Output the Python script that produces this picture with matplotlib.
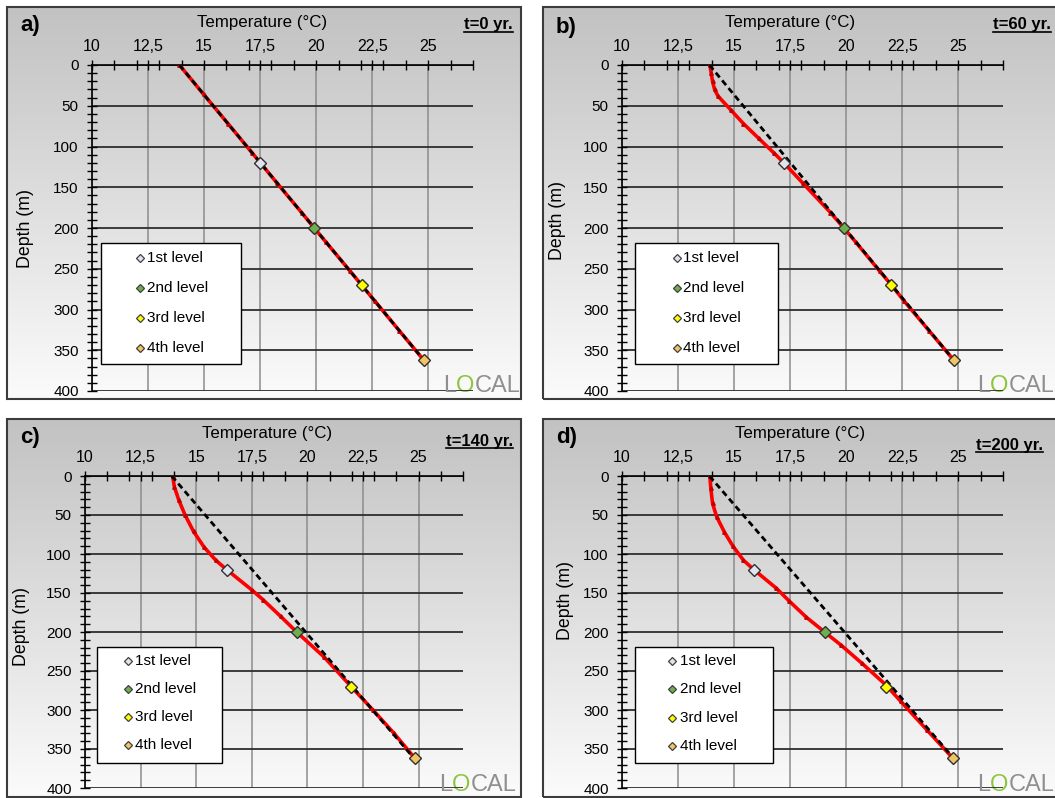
import numpy as np
import matplotlib
matplotlib.use("Agg")
import matplotlib.pyplot as plt
from matplotlib.patches import Rectangle
from matplotlib.lines import Line2D
from matplotlib.colors import LinearSegmentedColormap

plt.rcParams['font.family'] = ['Liberation Sans', 'DejaVu Sans']
NARROW = ['Liberation Sans Narrow', 'Liberation Sans', 'DejaVu Sans']

# ---------------------------------------------------------------- data
TEMP_TICKS = [10, 12.5, 15, 17.5, 20, 22.5, 25]
TEMP_LABELS = ["10", "12,5", "15", "17,5", "20", "22,5", "25"]
DEPTH_TICKS = [0, 50, 100, 150, 200, 250, 300, 350, 400]

LEVEL_NAMES = ["1st level", "2nd level", "3rd level", "4th level"]
LEVEL_DEPTHS = [120, 200, 270, 362]

PANEL_LETTERS = ["a)", "b)", "c)", "d)"]
PANEL_TIMES = ["t=0 yr.", "t=60 yr.", "t=140 yr.", "t=200 yr."]

# undisturbed (initial) geothermal profile
initial_depth = [0, 362]
initial_temp = [13.9, 24.8]

# simulated profiles
depth_a = [0, 36, 72, 108, 120, 145, 181, 200, 217, 253, 270, 290, 326, 362]
temp_a = [13.9, 14.98, 16.07, 17.15, 17.51, 18.26, 19.35, 19.92, 20.43,
          21.52, 22.03, 22.63, 23.71, 24.8]

depth_b = [0, 10, 20, 30, 38, 55, 72, 90, 108, 120, 145, 181, 200, 217,
           253, 270, 290, 326, 362]
temp_b = [13.92, 13.98, 14.04, 14.13, 14.28, 14.85, 15.42, 16.1, 16.78,
          17.22, 18.07, 19.3, 19.9, 20.42, 21.5, 22.02, 22.6, 23.7, 24.8]

depth_c = [0, 14, 31, 50, 71, 91, 108, 120, 146, 159, 180, 200, 232, 270,
           300, 330, 362]
temp_c = [13.94, 14.02, 14.22, 14.5, 14.88, 15.35, 15.88, 16.37, 17.5,
          18.02, 18.8, 19.52, 20.75, 21.97, 22.95, 23.9, 24.84]

depth_d = [0, 15, 35, 52, 72, 90, 108, 120, 144, 160, 181, 200, 217, 240,
           268, 289, 326, 362]
temp_d = [13.92, 13.96, 14.04, 14.22, 14.57, 14.95, 15.42, 15.88, 16.89,
          17.45, 18.22, 19.04, 19.78, 20.7, 21.78, 22.44, 23.62, 24.77]

# temperature at the four monitoring levels
levels_a = [17.51, 19.92, 22.03, 24.8]
levels_b = [17.22, 19.9, 22.02, 24.8]
levels_c = [16.37, 19.52, 21.97, 24.84]
levels_d = [15.88, 19.04, 21.78, 24.77]

PROFILES = [(depth_a, temp_a, levels_a), (depth_b, temp_b, levels_b),
            (depth_c, temp_c, levels_c), (depth_d, temp_d, levels_d)]

LEVEL_COLORS = ["#dfe4ee", "#6fae4c", "#ffff00", "#f2c463"]

# ---------------------------------------------------------------- layout
W, H = 1055, 798
fig = plt.figure(figsize=(W / 100, H / 100), dpi=100)
fig.patch.set_facecolor("white")


def rect(l, t, r, b):
    return [l / W, 1 - b / H, (r - l) / W, (b - t) / H]


def fx(px):
    return px / W


def fy(py):
    return 1 - py / H


LAYOUT = [
    dict(box=(7, 7, 521, 399), axes=(92, 65, 473, 391),
         letter=(20, 25), title=(262, 22), time=(513, 25), ylab=(25, 229),
         leg=(101, 243, 241, 364), legm=140, legt=147,
         rows=(258, 288, 318, 348), logo=(443, 397)),
    dict(box=(543, 7, 1060, 399), axes=(622, 65, 1003, 391),
         letter=(556, 27), title=(790, 22), time=(1051, 25), ylab=(558, 220),
         leg=(635, 243, 778, 364), legm=677, legt=683,
         rows=(258, 288, 318, 348), logo=(977, 397)),
    dict(box=(7, 419, 521, 797), axes=(85, 476, 463, 788),
         letter=(20, 438), title=(267, 433), time=(513, 441), ylab=(22, 627),
         leg=(97, 647, 222, 763), legm=128, legt=135,
         rows=(661, 689, 717, 745), logo=(439, 796)),
    dict(box=(543, 419, 1060, 797), axes=(622, 476, 1003, 788),
         letter=(556, 438), title=(800, 433), time=(1043, 445), ylab=(565, 600),
         leg=(635, 647, 773, 763), legm=672, legt=680,
         rows=(661, 689, 718, 746), logo=(977, 796)),
]

bg_cmap = LinearSegmentedColormap.from_list("panel_bg", ["#c2c2c2", "#fbfbfb"])
gradient = np.linspace(0, 1, 256).reshape(-1, 1)

time_texts = []
for k, lay in enumerate(LAYOUT):
    # panel background with vertical gradient and frame
    bg = fig.add_axes(rect(*lay["box"]), zorder=0)
    bg.imshow(gradient, cmap=bg_cmap, aspect="auto", extent=[0, 1, 0, 1])
    bg.set_xlim(0, 1)
    bg.set_ylim(0, 1)
    bg.axis("off")
    bg.add_patch(Rectangle((0, 0), 1, 1, transform=bg.transAxes, fill=False,
                           edgecolor="#3c3c3c", lw=1.5, clip_on=False))

    ax = fig.add_axes(rect(*lay["axes"]), zorder=1)
    ax.set_facecolor("none")
    ax.set_xlim(10, 27)
    ax.set_ylim(400, 0)
    ax.xaxis.tick_top()
    ax.set_xticks(TEMP_TICKS)
    ax.set_xticklabels(TEMP_LABELS)
    ax.set_xticks(np.arange(10, 28, 1), minor=True)
    ax.set_yticks(DEPTH_TICKS)
    ax.set_yticks(np.arange(0, 401, 10), minor=True)
    ax.tick_params(which="both", direction="inout", length=7, width=1,
                   color="black")
    ax.tick_params(axis="x", labelsize=11.5, pad=4.5)
    ax.tick_params(axis="y", labelsize=11, pad=6)
    for side in ("bottom", "right"):
        ax.spines[side].set_visible(False)
    for side in ("left", "top"):
        ax.spines[side].set_linewidth(1.2)
        ax.spines[side].set_color("black")
    ax.grid(axis="y", which="major", color="#2e2e2e", lw=1.3)
    ax.grid(axis="x", which="major", color="#8c8c8c", lw=1.1)
    ax.set_axisbelow(True)

    depth, temp, levels = PROFILES[k]
    ax.plot(temp, depth, color="#ff0000", lw=2.6, marker="^", ms=2.5,
            mfc="#c00000", mec="#c00000", zorder=3, solid_capstyle="round")
    ax.plot(initial_temp, initial_depth, color="black", lw=2.0,
            ls=(0, (2.2, 1.4)), zorder=4)
    for i in range(4):
        ax.plot([levels[i]], [LEVEL_DEPTHS[i]], ls="none", marker="D", ms=6.5,
                mfc=LEVEL_COLORS[i], mec="#303030", mew=1, zorder=5,
                clip_on=False)

    # texts
    fig.text(fx(lay["letter"][0]), fy(lay["letter"][1]), PANEL_LETTERS[k],
             fontsize=16, fontweight="bold", family=NARROW,
             ha="left", va="center")
    fig.text(fx(lay["title"][0]), fy(lay["title"][1]), "Temperature (°C)",
             fontsize=12.2, ha="center", va="center")
    tt = fig.text(fx(lay["time"][0]), fy(lay["time"][1]), PANEL_TIMES[k],
                  fontsize=12, fontweight="bold", family=NARROW,
                  ha="right", va="center")
    time_texts.append(tt)
    fig.text(fx(lay["ylab"][0]), fy(lay["ylab"][1]), "Depth (m)",
             fontsize=12.8, rotation=90, ha="center", va="center")

    # legend box
    l, t, r, b = lay["leg"]
    fig.patches.append(Rectangle((fx(l), fy(b)), (r - l) / W, (b - t) / H,
                                 transform=fig.transFigure, facecolor="white",
                                 edgecolor="black", lw=1, zorder=6))
    for i in range(4):
        y = fy(lay["rows"][i])
        fig.lines.append(Line2D([fx(lay["legm"])], [y], ls="none", marker="D",
                                ms=4.5, mfc=LEVEL_COLORS[i], mec="#404040",
                                mew=0.9, transform=fig.transFigure, zorder=7))
        fig.text(fx(lay["legt"]), y, LEVEL_NAMES[i], fontsize=11,
                 ha="left", va="center", zorder=7)

    # logo
    lx, ly = lay["logo"]
    t1 = fig.text(fx(lx), fy(ly), "L", fontsize=17, color="#8f8f8f",
                  ha="left", va="bottom", zorder=8)
    t2 = bg.annotate("O", xy=(1, 0), xycoords=t1, fontsize=17,
                     color="#8cc63f", ha="left", va="bottom",
                     annotation_clip=False, zorder=8)
    bg.annotate("CAL", xy=(1, 0), xycoords=t2, fontsize=17, color="#8f8f8f",
                ha="left", va="bottom", annotation_clip=False, zorder=8)

# underline the time labels
fig.canvas.draw()
renderer = fig.canvas.get_renderer()
for tt in time_texts:
    bb = tt.get_window_extent(renderer)
    fig.lines.append(Line2D([bb.x0 / W, bb.x1 / W],
                            [(bb.y0 + 1) / H, (bb.y0 + 1) / H],
                            color="black", lw=1.2,
                            transform=fig.transFigure))

fig.savefig("out.png", dpi=100)
